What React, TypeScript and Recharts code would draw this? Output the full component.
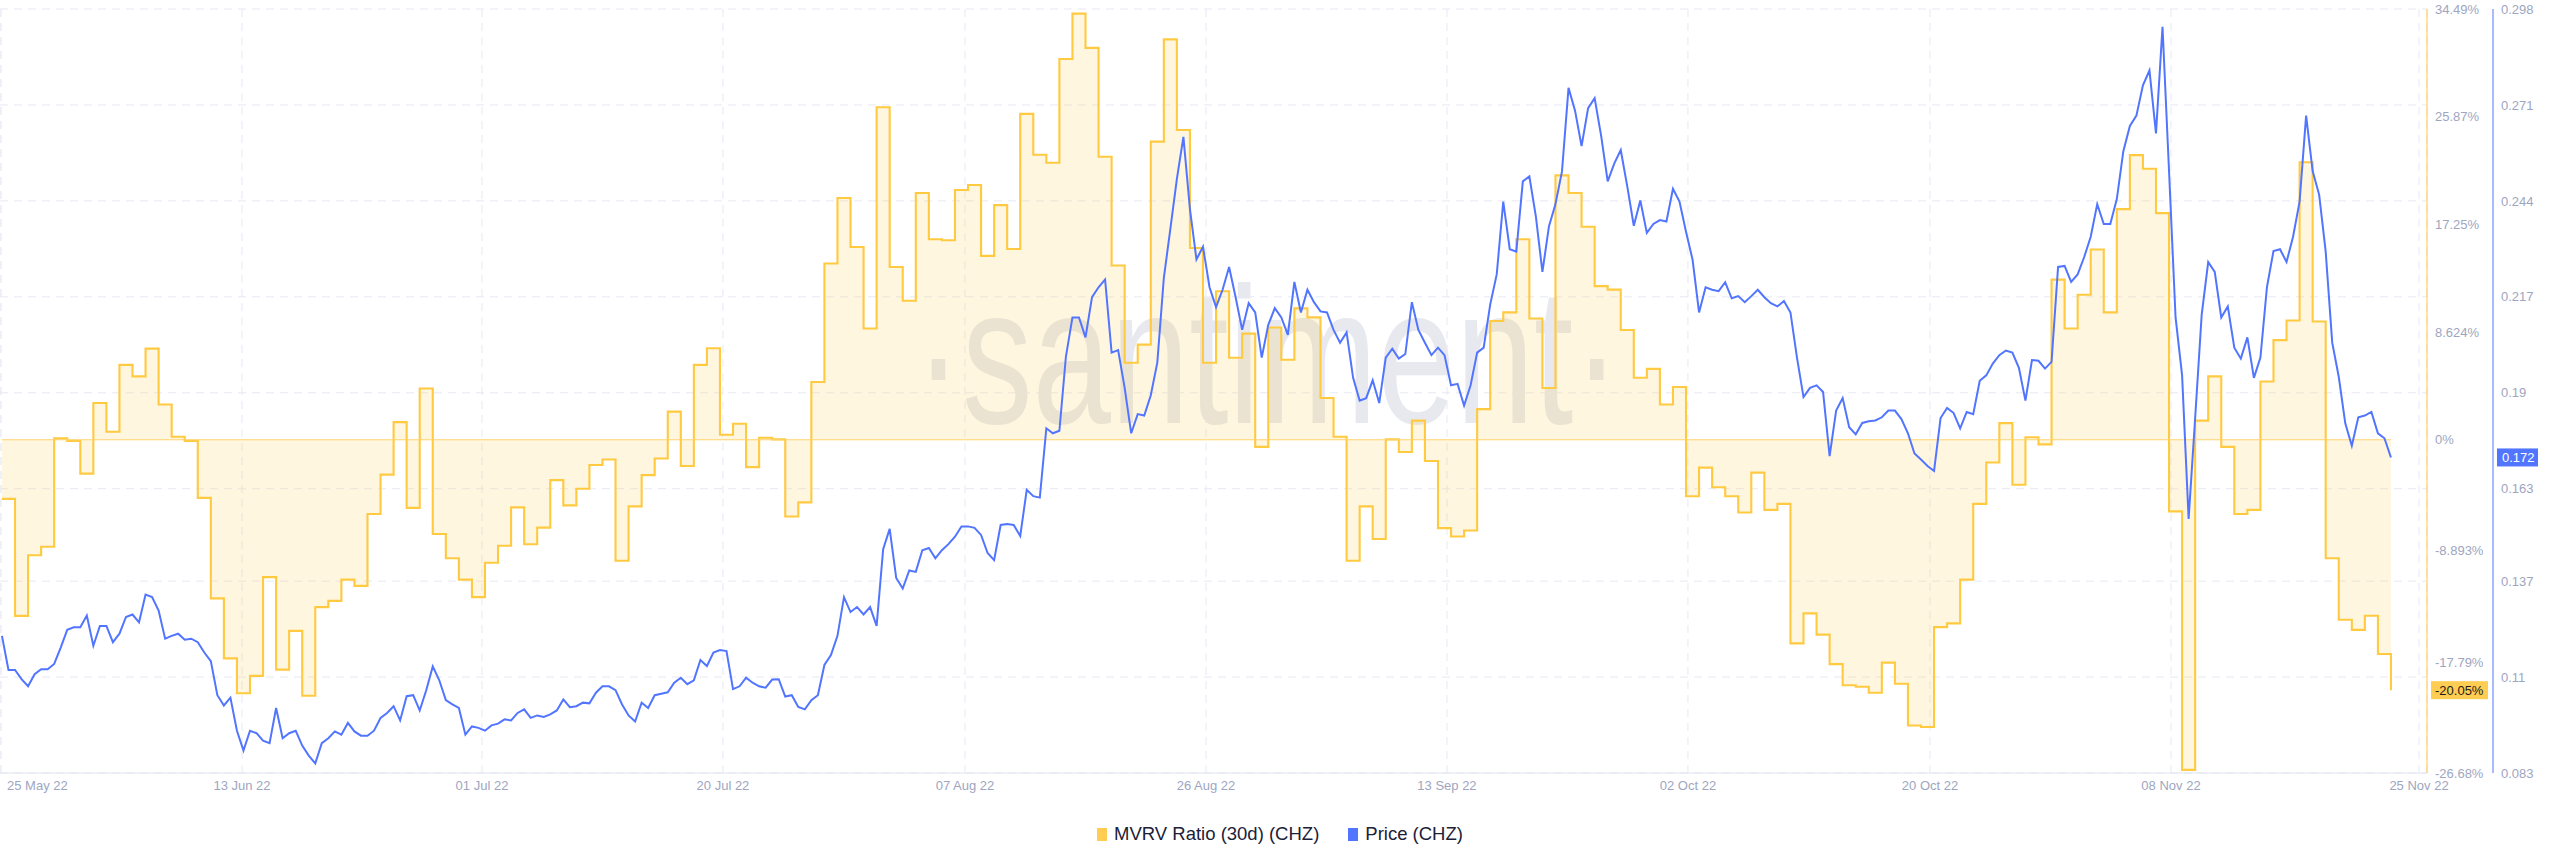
import React from "react";
import {
  ComposedChart,
  Area,
  Line,
  XAxis,
  YAxis,
  CartesianGrid,
  ReferenceLine,
} from "recharts";

// x axis: days since 25 May 22
const TICK_LABELS = [
  "25 May 22", "13 Jun 22", "01 Jul 22", "20 Jul 22", "07 Aug 22", "26 Aug 22",
  "13 Sep 22", "02 Oct 22", "20 Oct 22", "08 Nov 22", "25 Nov 22",
];
const TICK_DAYS = [-0.07, 18.39, 36.77, 55.23, 73.77, 92.23, 110.69, 129.15, 147.69, 166.15, 185.15];

const MVRV_TICKS = [34.49, 25.87, 17.25, 8.624, 0, -8.893, -17.79, -26.68];
const PRICE_TICKS = [0.298, 0.271, 0.244, 0.217, 0.19, 0.163, 0.137, 0.11, 0.083];

// MVRV Ratio (30d), %, one value per day
const MVRV = [
  -4.73, -14.1, -9.24, -8.56, 0.11, -0.09, -2.71, 2.94, 0.64, 6.0,
  5.08, 7.3, 2.82, 0.24, -0.09, -4.65, -12.7, -17.5, -20.3, -18.9,
  -11.0, -18.4, -15.3, -20.5, -13.4, -12.9, -11.2, -11.7, -5.94, -2.79,
  1.41, -5.45, 4.11, -7.55, -9.49, -11.2, -12.6, -9.85, -8.48, -5.41,
  -8.36, -7.03, -3.23, -5.25, -3.92, -2.02, -1.58, -9.69, -5.33, -2.83,
  -1.5, 2.25, -2.1, 6.0, 7.33, 0.4, 1.28, -2.19, 0.16, 0.03,
  -6.14, -5.01, 4.63, 14.11, 19.36, 15.44, 8.91, 26.62, 13.83, 11.13,
  19.76, 16.05, 15.97, 20.0, 20.4, 14.72, 18.79, 15.28, 26.09, 22.82,
  22.18, 30.49, 34.12, 31.38, 22.66, 13.95, 6.17, 7.62, 23.87, 32.06,
  24.8, 15.36, 6.17, 11.89, 6.57, 8.5, -0.57, 8.99, 6.41, 10.52,
  9.8, 3.34, 0.24, -9.69, -5.33, -7.95, 0.03, -0.98, 1.53, -1.7,
  -7.07, -7.75, -7.27, 2.45, 9.51, 10.2, 16.05, 9.71, 4.15, 21.17,
  19.76, 17.06, 12.3, 12.02, 8.79, 4.96, 5.68, 2.82, 4.23, -4.52,
  -2.23, -3.8, -4.52, -5.82, -2.63, -5.61, -5.13, -16.3, -13.9, -15.6,
  -17.96, -19.65, -19.77, -20.26, -17.84, -19.53, -22.88, -23.0, -15.0, -14.7,
  -11.2, -5.13, -1.82, 1.33, -3.6, 0.2, -0.37, 12.82, 8.91, 11.61,
  15.24, 10.2, 18.47, 22.79, 21.7, 18.15, -5.73, -26.43, 1.53, 5.08,
  -0.57, -5.94, -5.61, 4.67, 7.98, 9.55, 22.22, 9.47, -9.49, -14.41,
  -15.22, -14.09, -17.15, -20.05,
];

// Price (CHZ), USD, one value every 12 hours
const PRICE = [
  0.1216, 0.112, 0.112, 0.1094, 0.1074, 0.1108, 0.1122, 0.1122, 0.1137, 0.1183,
  0.1233, 0.124, 0.124, 0.1273, 0.1188, 0.1244, 0.1244, 0.1198, 0.1222, 0.1269,
  0.1276, 0.1254, 0.1332, 0.1325, 0.1287, 0.1208, 0.1216, 0.1222, 0.1205, 0.1208,
  0.1198, 0.1169, 0.1145, 0.1049, 0.102, 0.1042, 0.0949, 0.0893, 0.0949, 0.0942,
  0.0921, 0.0914, 0.1013, 0.0928, 0.0942, 0.0949, 0.0907, 0.0879, 0.0857, 0.0914,
  0.0928, 0.0947, 0.0938, 0.0971, 0.0947, 0.0935, 0.0935, 0.0949, 0.0985, 0.0999,
  0.1018, 0.0978, 0.1046, 0.1049, 0.1006, 0.1063, 0.113, 0.1091, 0.1035, 0.1023,
  0.1013, 0.0938, 0.0961, 0.0957, 0.0949, 0.0964, 0.0969, 0.0981, 0.0978, 0.0999,
  0.1009, 0.0985, 0.0992, 0.0988, 0.0995, 0.1006, 0.1037, 0.1015, 0.1018, 0.1028,
  0.1026, 0.1056, 0.1074, 0.1074, 0.1063, 0.1023, 0.0992, 0.0975, 0.1028, 0.1013,
  0.1049, 0.1053, 0.1057, 0.1084, 0.1098, 0.108, 0.1091, 0.1148, 0.1131, 0.1169,
  0.1176, 0.1173, 0.1066, 0.1074, 0.1098, 0.1084, 0.1074, 0.107, 0.1093, 0.1094,
  0.1045, 0.1049, 0.1016, 0.1009, 0.1035, 0.1049, 0.1134, 0.1162, 0.1216, 0.1325,
  0.1283, 0.1297, 0.1276, 0.1297, 0.1244, 0.146, 0.1517, 0.1379, 0.1349, 0.14,
  0.1396, 0.1457, 0.1463, 0.1434, 0.1457, 0.1474, 0.1495, 0.1524, 0.1524, 0.152,
  0.15, 0.1449, 0.1429, 0.1528, 0.1531, 0.1528, 0.1497, 0.1627, 0.1609, 0.1605,
  0.18, 0.1786, 0.1793, 0.2002, 0.2112, 0.2112, 0.2056, 0.2169, 0.2197, 0.2219,
  0.2013, 0.202, 0.1914, 0.1786, 0.184, 0.1836, 0.1893, 0.1985, 0.2223, 0.2361,
  0.2502, 0.262, 0.2417, 0.2275, 0.2311, 0.2197, 0.2141, 0.219, 0.2254, 0.2169,
  0.2077, 0.2152, 0.2126, 0.1999, 0.2091, 0.2138, 0.2112, 0.2063, 0.2212, 0.2126,
  0.219, 0.2155, 0.2129, 0.2126, 0.2077, 0.2041, 0.207, 0.1942, 0.1878, 0.1885,
  0.1935, 0.1871, 0.1999, 0.2024, 0.1996, 0.2009, 0.2155, 0.2077, 0.2041, 0.2006,
  0.2027, 0.2006, 0.1921, 0.1925, 0.1864, 0.1921, 0.2013, 0.2027, 0.2148, 0.2233,
  0.2438, 0.2304, 0.2297, 0.2495, 0.2509, 0.2396, 0.224, 0.2368, 0.2431, 0.2523,
  0.2758, 0.2694, 0.2594, 0.2701, 0.2729, 0.2623, 0.2495, 0.2545, 0.2583, 0.2481,
  0.237, 0.2441, 0.235, 0.2375, 0.2386, 0.2382, 0.2474, 0.2438, 0.2353, 0.2275,
  0.2126, 0.2197, 0.219, 0.2186, 0.2211, 0.2166, 0.2172, 0.2155, 0.2172, 0.219,
  0.2169, 0.2152, 0.2143, 0.2158, 0.2126, 0.1999, 0.1888, 0.1914, 0.1921, 0.1902,
  0.1722, 0.185, 0.1885, 0.1803, 0.1783, 0.1815, 0.182, 0.1822, 0.1831, 0.185,
  0.185, 0.1826, 0.1786, 0.1729, 0.1712, 0.1694, 0.168, 0.1829, 0.1857, 0.1843,
  0.18, 0.1846, 0.184, 0.1934, 0.1949, 0.1982, 0.2006, 0.2019, 0.2013, 0.197,
  0.1878, 0.1992, 0.199, 0.1968, 0.1987, 0.2254, 0.2257, 0.2212, 0.2233, 0.2282,
  0.2339, 0.2431, 0.2375, 0.2375, 0.2445, 0.258, 0.2651, 0.268, 0.2765, 0.2807,
  0.263, 0.293, 0.2524, 0.2112, 0.1949, 0.1545, 0.1829, 0.2119, 0.2268, 0.224,
  0.2112, 0.2143, 0.2027, 0.1996, 0.2056, 0.1942, 0.1999, 0.2197, 0.2299, 0.2304,
  0.2268, 0.2339, 0.2438, 0.268, 0.2524, 0.2457, 0.2297, 0.2041, 0.1945, 0.1814,
  0.1751, 0.1831, 0.1836, 0.1846, 0.1786, 0.1772, 0.1718,
];

const mvrvRows = MVRV.map((v, i) => ({ t: i, v }));
const priceRows = PRICE.map((p, i) => ({ t: i / 2, p }));
const lastMvrv = MVRV[MVRV.length - 1];
const lastPrice = PRICE[PRICE.length - 1];

const FONT = '"Liberation Sans", Arial, sans-serif';
const ORANGE = "#ffc940";
const BLUE = "#5275ff";
const GRID = "#e7e9f3";
const axisTick = { fontSize: 13, fill: "#9ea6bf", fontFamily: FONT };

function DateTick(props: any) {
  const { x, y, index } = props;
  const first = index === 0;
  return (
    <text
      x={first ? x + 6 : x}
      y={y}
      dy="0.71em"
      textAnchor={first ? "start" : "middle"}
      fontSize={13}
      fill="#9ea6bf"
      fontFamily={FONT}
    >
      {TICK_LABELS[index]}
    </text>
  );
}

// current value badge next to the axis
function Badge(props: any) {
  const { viewBox, text, fill, color, dx, w, pad } = props;
  const x = viewBox.x + viewBox.width + dx;
  const y = viewBox.y;
  return (
    <g>
      <rect x={x} y={y - 9} width={w} height={18} fill={fill} />
      <text x={x + pad} y={y} dy="0.36em" fontSize={13} fill={color} fontFamily={FONT}>
        {text}
      </text>
    </g>
  );
}

export default function App() {
  return (
    <div style={{ position: "relative", width: 2560, height: 867, fontFamily: FONT }}>
      <style>{"body{margin:0}"}</style>
      <svg
        width={2560}
        height={867}
        style={{ position: "absolute", left: 0, top: 0 }}
      >
        <text
          x={915}
          y={423 / 1.38}
          transform="scale(1,1.38)"
          fontSize={141}
          fill="#e8e9ee"
          fontFamily={FONT}
        >
          ·santiment·
        </text>
      </svg>
      <div style={{ position: "absolute", left: 0, top: 0 }}>
        <ComposedChart
          width={2560}
          height={867}
          margin={{ top: 9, right: 0, bottom: 64, left: 0 }}
        >
          <CartesianGrid yAxisId="price" stroke={GRID} strokeDasharray="8 6" />
          <XAxis
            type="number"
            dataKey="t"
            domain={[-0.15, 185.76]}
            ticks={TICK_DAYS}
            interval={0}
            allowDataOverflow
            height={30}
            tick={<DateTick />}
            tickLine={false}
            axisLine={{ stroke: "#e1e4ee" }}
          />
          <YAxis
            yAxisId="mvrv"
            orientation="right"
            type="number"
            domain={[-26.68, 34.49]}
            ticks={MVRV_TICKS}
            interval={0}
            width={66}
            tick={axisTick}
            tickFormatter={(v: number) => `${v}%`}
            tickLine={false}
            axisLine={{ stroke: ORANGE }}
          />
          <YAxis
            yAxisId="price"
            orientation="right"
            type="number"
            domain={[0.083, 0.298]}
            ticks={PRICE_TICKS}
            interval={0}
            width={67}
            tick={axisTick}
            tickLine={false}
            axisLine={{ stroke: BLUE }}
          />
          <Area
            yAxisId="mvrv"
            data={mvrvRows}
            dataKey="v"
            type="stepAfter"
            baseValue={0}
            stroke={ORANGE}
            strokeWidth={2.1}
            fill={ORANGE}
            fillOpacity={0.16}
            isAnimationActive={false}
          />
          <ReferenceLine
            yAxisId="mvrv"
            segment={[
              { x: mvrvRows[0].t, y: 0 },
              { x: mvrvRows[mvrvRows.length - 1].t, y: 0 },
            ]}
            stroke="#ffd36b"
            strokeWidth={1}
          />
          <Line
            yAxisId="price"
            data={priceRows}
            dataKey="p"
            type="linear"
            stroke={BLUE}
            strokeWidth={2}
            dot={false}
            isAnimationActive={false}
          />
          <ReferenceLine
            yAxisId="mvrv"
            y={lastMvrv}
            stroke="none"
            label={<Badge text={`${lastMvrv}%`} fill="#ffcd52" color="#1c1c1c" dx={4} w={57} pad={4} />}
          />
          <ReferenceLine
            yAxisId="price"
            y={lastPrice}
            stroke="none"
            label={<Badge text={lastPrice.toFixed(3)} fill={BLUE} color="#ffffff" dx={70} w={41} pad={5} />}
          />
        </ComposedChart>
      </div>
      <div
        style={{
          position: "absolute",
          left: 0,
          top: 824,
          width: 2560,
          display: "flex",
          justifyContent: "center",
          gap: 29,
          fontSize: 18.5,
          color: "#1b2137",
          lineHeight: "20px",
        }}
      >
        <span style={{ display: "flex", alignItems: "center", gap: 7 }}>
          <span style={{ width: 10, height: 13, background: "#ffcd52", display: "inline-block" }} />
          MVRV Ratio (30d) (CHZ)
        </span>
        <span style={{ display: "flex", alignItems: "center", gap: 7 }}>
          <span style={{ width: 10, height: 13, background: BLUE, display: "inline-block" }} />
          Price (CHZ)
        </span>
      </div>
    </div>
  );
}
